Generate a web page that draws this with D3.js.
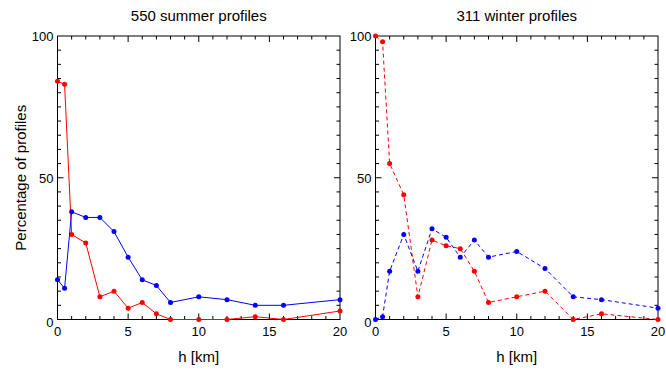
<!DOCTYPE html>
<html>
<head>
<meta charset="utf-8">
<script src="https://cdn.jsdelivr.net/npm/d3@7"></script>
<style>
  body { margin: 0; background: #fff; }
  text { font-family: "Liberation Sans", Arial, sans-serif; fill: #000; }
</style>
</head>
<body>
<svg width="666" height="372"></svg>
<script>
// heights (km)
var heights = [0, 0.5, 1, 2, 3, 4, 5, 6, 7, 8, 10, 12, 14, 16, 20];

// summer
var summerRed  = [84, 83, 30, 27, 8, 10, 4, 6, 2, 0, 0, 0, 1, 0, 3];
var summerBlue = [14, 11, 38, 36, 36, 31, 22, 14, 12, 6, 8, 7, 5, 5, 7];

// winter
var winterRed  = [100, 98, 55, 44, 8, 28, 26, 25, 17, 6, 8, 10, 0, 2, 0];
var winterBlue = [0, 1, 17, 30, 17, 32, 29, 22, 28, 22, 24, 18, 8, 7, 4];

var xTicks = [0, 5, 10, 15, 20];
var yTicks = [0, 50, 100];

var svg = d3.select("svg");

var plotTop = 36, plotBottom = 319.5;

var panels = [
  { title: "550 summer profiles", left: 57.5, right: 340, red: summerRed, blue: summerBlue, dash: null },
  { title: "311 winter profiles", left: 375.5, right: 658, red: winterRed, blue: winterBlue, dash: "4,3" }
];

panels.forEach(function(p) {
  var x = d3.scaleLinear().domain([0, 20]).range([p.left, p.right]);
  var y = d3.scaleLinear().domain([0, 100]).range([plotBottom, plotTop]);
  var g = svg.append("g");

  // frame
  g.append("rect")
    .attr("x", p.left).attr("y", plotTop)
    .attr("width", p.right - p.left).attr("height", plotBottom - plotTop)
    .attr("fill", "none").attr("stroke", "#000").attr("stroke-width", 1);

  // x ticks, every 1 km, top and bottom, inward
  d3.range(1, 20).forEach(function(v) {
    var len = v % 5 == 0 ? 6 : 3.5;
    g.append("line").attr("x1", x(v)).attr("x2", x(v))
      .attr("y1", plotBottom).attr("y2", plotBottom - len).attr("stroke", "#000");
    g.append("line").attr("x1", x(v)).attr("x2", x(v))
      .attr("y1", plotTop).attr("y2", plotTop + len).attr("stroke", "#000");
  });
  // y ticks, every 5
  d3.range(5, 100, 5).forEach(function(v) {
    var len = v % 50 == 0 ? 6 : 3.5;
    g.append("line").attr("x1", p.left).attr("x2", p.left + len)
      .attr("y1", y(v)).attr("y2", y(v)).attr("stroke", "#000");
    g.append("line").attr("x1", p.right).attr("x2", p.right - len)
      .attr("y1", y(v)).attr("y2", y(v)).attr("stroke", "#000");
  });

  // tick labels
  g.selectAll(".xl").data(xTicks).enter().append("text")
    .attr("x", function(d) { return x(d); })
    .attr("y", plotBottom + 16.5)
    .attr("text-anchor", "middle")
    .attr("font-size", "13px")
    .text(function(d) { return d; });
  g.selectAll(".yl").data(yTicks).enter().append("text")
    .attr("x", p.left - 4)
    .attr("y", function(d) { return d == 0 ? y(d) + 7.5 : y(d) + 5; })
    .attr("text-anchor", "end")
    .attr("font-size", "13px")
    .text(function(d) { return d; });

  // titles
  g.append("text")
    .attr("x", (p.left + p.right) / 2).attr("y", 21)
    .attr("text-anchor", "middle").attr("font-size", "15px")
    .text(p.title);
  g.append("text")
    .attr("x", (p.left + p.right) / 2).attr("y", 362)
    .attr("text-anchor", "middle").attr("font-size", "15px")
    .text("h [km]");

  var line = d3.line()
    .x(function(d, i) { return x(heights[i]); })
    .y(function(d) { return y(d); });

  [[p.red, "#ff0000"], [p.blue, "#0000ff"]].forEach(function(s) {
    g.append("path")
      .datum(s[0])
      .attr("d", line)
      .attr("fill", "none")
      .attr("stroke", s[1])
      .attr("stroke-width", 1)
      .attr("stroke-dasharray", p.dash);
    g.selectAll(null).data(s[0]).enter().append("circle")
      .attr("cx", function(d, i) { return x(heights[i]); })
      .attr("cy", function(d) { return y(d); })
      .attr("r", 2.5)
      .attr("fill", s[1]);
  });
});

svg.append("text")
  .attr("transform", "translate(26," + (plotTop + plotBottom) / 2 + ") rotate(-90)")
  .attr("text-anchor", "middle")
  .attr("font-size", "15px")
  .text("Percentage of profiles");
</script>
</body>
</html>
